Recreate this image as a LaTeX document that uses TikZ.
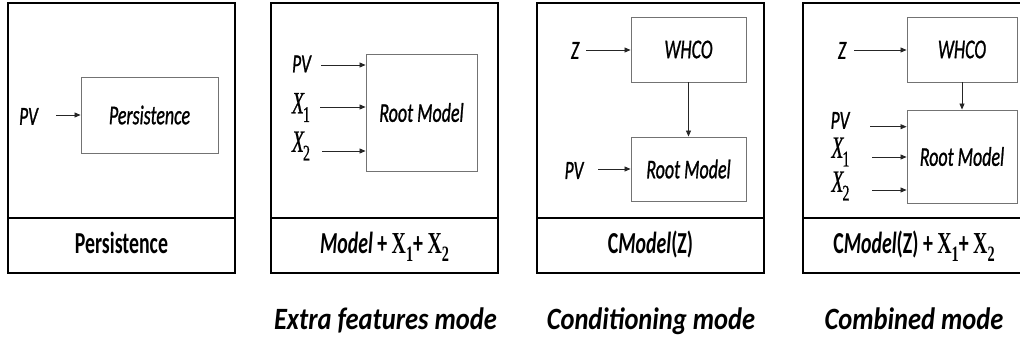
\documentclass[tikz,border=0pt]{standalone}
\usepackage{fontspec}
\setmainfont{Carlito}
\newfontfamily\medfont{Carlito}[FakeBold=1.2]
\newfontfamily\serif{Liberation Serif}
\newfontfamily\serifb{Liberation Serif}[FakeBold=0.8]
\usetikzlibrary{arrows.meta}
\newcommand\sqz[2]{\scalebox{#1}[1]{#2}}
\newcommand\XsubI[1]{{\serifb\itshape X}\kern-0.05em\raisebox{-0.28em}{\scalebox{0.72}{\serifb\upshape #1}}}
\newcommand\XsubU[1]{{\serif\upshape X}\raisebox{-0.28em}{\scalebox{0.72}{\serif\upshape #1}}}
\tikzset{
  frame/.style={draw=black, line width=2.6pt},
  ibox/.style={draw=black!55, line width=0.9pt, fill=white, inner sep=0pt, font=\fontsize{27}{30}\medfont\itshape},
  arr/.style={draw=black!85, line width=0.8pt, -{Triangle[length=6pt,width=5pt]}},
  lbl/.style={inner sep=0pt, font=\fontsize{26}{30}\medfont\itshape},
  mlbl/.style={inner sep=0pt, font=\fontsize{31}{34}\selectfont},
  btm/.style={inner sep=0pt, anchor=base, font=\fontsize{30.5}{34}\selectfont\bfseries},
  modelbl/.style={inner sep=0pt, anchor=base, font=\fontsize{31}{34}\selectfont\bfseries\itshape},
}
\begin{document}
\begin{tikzpicture}[x=1pt,y=-1pt]
\useasboundingbox (0,0) rectangle (1020,343);
% ---------- panel 1 ----------
\draw[frame] (8,3) rectangle (235,273);
\draw[frame] (8,218) -- (235,218);
\node[ibox, minimum width=137pt, minimum height=76pt] (pers) at (149.5,115) {\sqz{0.665}{Persistence}};
\node[lbl] (pv1) at (28.5,116.5) {\sqz{0.665}{PV}};
\coordinate (pv1e) at (56,115);
\draw[arr] (pv1e) -- (pers.west |- pv1e);
\node[btm] (b1) at (121.5,253) {\sqz{0.65}{Persistence}};
% ---------- panel 2 ----------
\draw[frame] (271,3) rectangle (498,273);
\draw[frame] (271,218) -- (498,218);
\node[ibox, minimum width=111pt, minimum height=117pt] (rm2) at (421.5,112.5) {\sqz{0.665}{Root Model}};
\node[lbl] (pv2) at (301.5,64) {\sqz{0.665}{PV}};
\node[mlbl] (x12) at (301,107.5) {\sqz{0.63}{\XsubI{1}}};
\node[mlbl] (x22) at (301,146) {\sqz{0.63}{\XsubI{2}}};
\coordinate (pv2e) at (321,65);
\coordinate (x12e) at (320,107);
\coordinate (x22e) at (322,151);
\draw[arr] (pv2e) -- (rm2.west |- pv2e);
\draw[arr] (x12e) -- (rm2.west |- x12e);
\draw[arr] (x22e) -- (rm2.west |- x22e);
\node[btm] (b2) at (384.5,253) {\sqz{0.65}{\textit{Model} + \XsubU{1}+ \XsubU{2}}};
% ---------- panel 3 ----------
\draw[frame] (537,3) rectangle (764,273);
\draw[frame] (537,218) -- (764,218);
\node[ibox, minimum width=115pt, minimum height=65pt] (wh3) at (688.5,49.5) {\sqz{0.665}{WHCO}};
\node[ibox, minimum width=115pt, minimum height=64pt] (rm3) at (688.5,169) {\sqz{0.665}{Root Model}};
\node[lbl] (z3) at (575,50.5) {\sqz{0.665}{Z}};
\node[lbl] (pv3) at (574,170.5) {\sqz{0.665}{PV}};
\coordinate (z3e) at (586,50);
\coordinate (pv3e) at (598,169);
\draw[arr] (z3e) -- (wh3.west |- z3e);
\draw[arr] (pv3e) -- (rm3.west |- pv3e);
\draw[arr] (wh3.south) -- (rm3.north);
\node[btm] (b3) at (650.5,253) {\sqz{0.65}{C\textit{Model}(Z)}};
% ---------- panel 4 ----------
\draw[frame] (803,3) rectangle (1030,273);
\draw[frame] (803,218) -- (1030,218);
\node[ibox, minimum width=110pt, minimum height=65pt] (wh4) at (962,49.5) {\sqz{0.665}{WHCO}};
\node[ibox, minimum width=110pt, minimum height=93pt] (rm4) at (962,156.5) {\sqz{0.665}{Root Model}};
\node[lbl] (z4) at (842,50.5) {\sqz{0.665}{Z}};
\node[lbl] (pv4) at (840,120.5) {\sqz{0.665}{PV}};
\node[mlbl] (x14) at (840.5,152) {\sqz{0.63}{\XsubI{1}}};
\node[mlbl] (x24) at (840.5,186) {\sqz{0.63}{\XsubI{2}}};
\coordinate (z4e) at (854,50);
\coordinate (pv4e) at (870,126.7);
\coordinate (x14e) at (872,157);
\coordinate (x24e) at (872,190);
\draw[arr] (z4e) -- (wh4.west |- z4e);
\draw[arr] (pv4e) -- (rm4.west |- pv4e);
\draw[arr] (x14e) -- (rm4.west |- x14e);
\draw[arr] (x24e) -- (rm4.west |- x24e);
\draw[arr] (wh4.south) -- (rm4.north);
\node[btm] (b4) at (914,253) {\sqz{0.65}{C\textit{Model}(Z) + \XsubU{1}+ \XsubU{2}}};
% ---------- mode captions ----------
\node[modelbl] (m2) at (385.5,329) {\sqz{0.855}{Extra features mode}};
\node[modelbl] (m3) at (651,329) {\sqz{0.855}{Conditioning mode}};
\node[modelbl] (m4) at (914,329) {\sqz{0.855}{Combined mode}};
\end{tikzpicture}
\end{document}
